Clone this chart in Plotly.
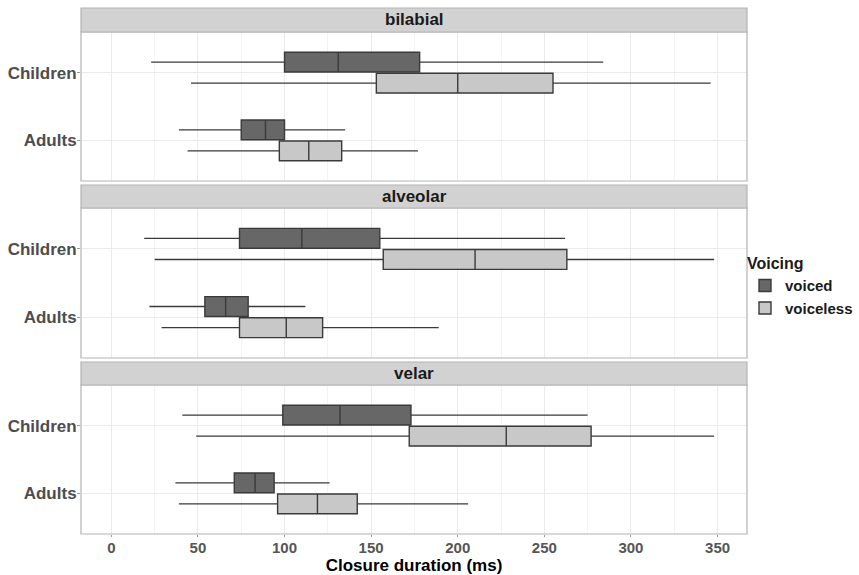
import plotly.graph_objects as go
from plotly.subplots import make_subplots

# Closure duration (ms) summary statistics per place of articulation
places = ["bilabial", "alveolar", "velar"]
groups = ["Children", "Adults"]

# voiced stops: [Children, Adults]
voiced_low = {"bilabial": [23, 39], "alveolar": [19, 22], "velar": [41, 37]}
voiced_q1 = {"bilabial": [100, 75], "alveolar": [74, 54], "velar": [99, 71]}
voiced_med = {"bilabial": [131, 89], "alveolar": [110, 66], "velar": [132, 83]}
voiced_q3 = {"bilabial": [178, 100], "alveolar": [155, 79], "velar": [173, 94]}
voiced_high = {"bilabial": [284, 135], "alveolar": [262, 112], "velar": [275, 126]}

# voiceless stops: [Children, Adults]
voiceless_low = {"bilabial": [46, 44], "alveolar": [25, 29], "velar": [49, 39]}
voiceless_q1 = {"bilabial": [153, 97], "alveolar": [157, 74], "velar": [172, 96]}
voiceless_med = {"bilabial": [200, 114], "alveolar": [210, 101], "velar": [228, 119]}
voiceless_q3 = {"bilabial": [255, 133], "alveolar": [263, 122], "velar": [277, 142]}
voiceless_high = {"bilabial": [346, 177], "alveolar": [348, 189], "velar": [348, 206]}

x_ticks = [0, 50, 100, 150, 200, 250, 300, 350]

FONT = "Liberation Sans"
VOICED_FILL = "#676767"
VOICELESS_FILL = "#c8c8c8"
LINE = "#3a3a3a"
GRID = "#ebebeb"
BORDER = "#b3b3b3"
STRIP = "#d2d2d2"

# vertical layout of panel bodies and strips (paper fractions)
body_domains = [[0.6711, 0.9544], [0.3346, 0.6198], [0.0, 0.2833]]
strip_domains = [[0.9544, 1.0], [0.6198, 0.6635], [0.2833, 0.3270]]

fig = make_subplots(rows=3, cols=1, shared_xaxes=True, vertical_spacing=0.05)

# voiceless is added first so that, in each group, voiced sits above it
series = [
    ("voiceless", 2, VOICELESS_FILL, voiceless_low, voiceless_q1, voiceless_med, voiceless_q3, voiceless_high),
    ("voiced", 1, VOICED_FILL, voiced_low, voiced_q1, voiced_med, voiced_q3, voiced_high),
]

for i, place in enumerate(places):
    for name, rank, fill, lo, q1, med, q3, hi in series:
        fig.add_trace(
            go.Box(
                name=name,
                y=groups,
                lowerfence=lo[place],
                q1=q1[place],
                median=med[place],
                q3=q3[place],
                upperfence=hi[place],
                orientation="h",
                fillcolor=fill,
                line=dict(color=LINE, width=1.4),
                whiskerwidth=0,
                boxpoints=False,
                alignmentgroup=place,
                offsetgroup=name,
                legendgroup=name,
                legendrank=rank,
                showlegend=(i == 0),
                hoverinfo="skip",
            ),
            row=i + 1,
            col=1,
        )

    yname = "yaxis" if i == 0 else f"yaxis{i + 1}"
    fig.layout[yname].update(
        domain=body_domains[i],
        type="category",
        categoryorder="array",
        categoryarray=["Adults", "Children"],
        range=[-0.6, 1.6],
        showgrid=True,
        gridcolor=GRID,
        gridwidth=1,
        ticks="outside",
        ticklen=3,
        tickcolor="#9a9a9a",
        ticklabelstandoff=-3,
        tickfont=dict(family=FONT, size=17, color="#4d4d4d", weight="bold"),
        showline=False,
        zeroline=False,
        fixedrange=True,
    )
    xname = "xaxis" if i == 0 else f"xaxis{i + 1}"
    fig.layout[xname].update(
        range=[-17.5, 367],
        tickvals=x_ticks,
        showgrid=True,
        gridcolor=GRID,
        gridwidth=1,
        minor=dict(dtick=25, tick0=0, showgrid=True, gridcolor="#f4f4f4", gridwidth=1),
        zeroline=False,
        showline=False,
        ticks="outside" if i == 2 else "",
        ticklen=2,
        tickcolor="#9a9a9a",
        ticklabelstandoff=-2,
        showticklabels=(i == 2),
        tickfont=dict(family=FONT, size=15, color="#555555", weight="bold"),
    )

    # panel border
    y0, y1 = body_domains[i]
    fig.add_shape(type="rect", xref="paper", yref="paper", x0=0, x1=1, y0=y0, y1=y1,
                  line=dict(color=BORDER, width=1.2), fillcolor="rgba(0,0,0,0)", layer="above")
    # facet strip
    s0, s1 = strip_domains[i]
    fig.add_shape(type="rect", xref="paper", yref="paper", x0=0, x1=1, y0=s0, y1=s1,
                  line=dict(color=BORDER, width=1.2), fillcolor=STRIP, layer="above")
    fig.add_annotation(text=place, xref="paper", yref="paper", x=0.5, y=(s0 + s1) / 2,
                       showarrow=False, xanchor="center", yanchor="middle",
                       font=dict(family=FONT, size=17, color="#1a1a1a", weight="bold"))

fig.update_xaxes(
    title=dict(text="Closure duration (ms)", standoff=3,
               font=dict(family=FONT, size=17, color="#000000", weight="bold")),
    row=3, col=1,
)

fig.update_layout(
    width=859,
    height=575,
    margin=dict(l=81, r=112, t=8, b=41, autoexpand=False),
    plot_bgcolor="white",
    paper_bgcolor="white",
    boxmode="group",
    boxgap=0.38,
    boxgroupgap=0.06,
    font=dict(family=FONT),
    legend=dict(
        title=dict(text="Voicing", font=dict(family=FONT, size=16, color="#1a1a1a", weight="bold")),
        font=dict(family=FONT, size=15, color="#1a1a1a", weight="bold"),
        x=0.997, xanchor="left",
        y=0.543, yanchor="top",
        tracegroupgap=0,
        itemwidth=30,
        bgcolor="rgba(0,0,0,0)",
    ),
)

fig.write_html("out.html")
